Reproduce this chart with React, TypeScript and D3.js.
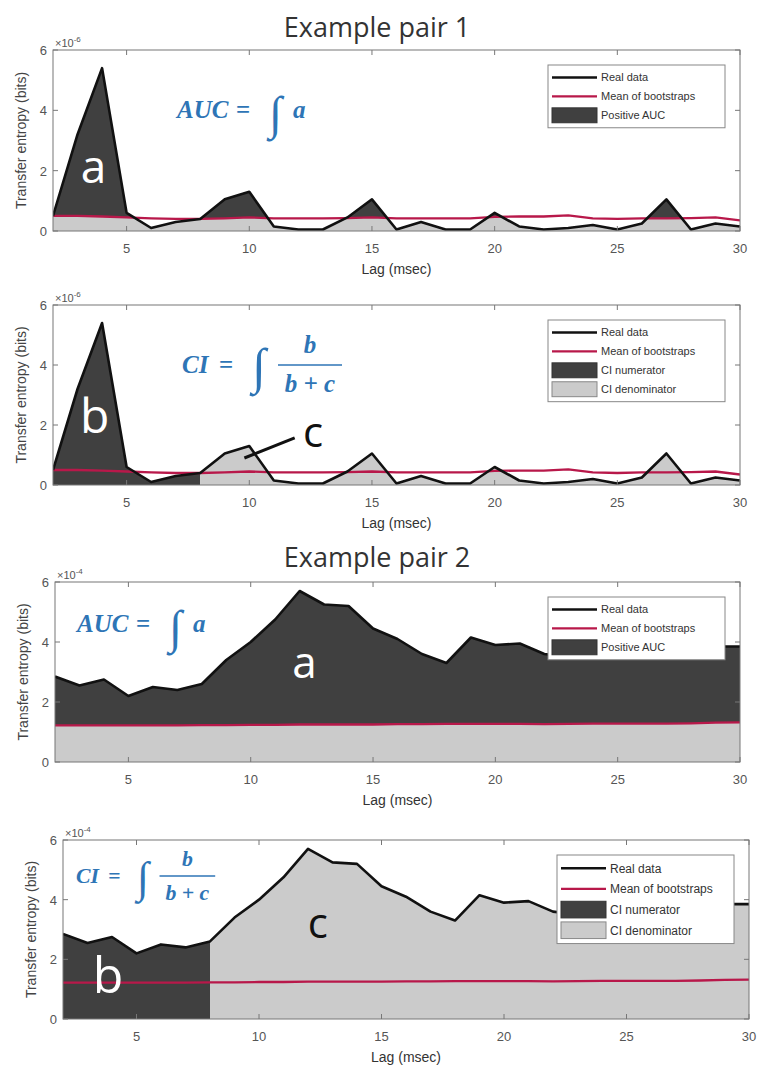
import React from 'react';
import * as d3 from 'd3';

// lag axis (msec) shared by all four panels
const lags = [2, 3, 4, 5, 6, 7, 8, 9, 10, 11, 12, 13, 14, 15, 16, 17, 18, 19, 20, 21, 22, 23, 24, 25, 26, 27, 28, 29, 30];

// Example pair 1, values in units of 1e-6 bits
const pair1Real = [0.5, 3.2, 5.4, 0.6, 0.1, 0.3, 0.4, 1.05, 1.3, 0.15, 0.05, 0.05, 0.45, 1.05, 0.05, 0.3, 0.05, 0.05, 0.6, 0.15, 0.05, 0.1, 0.2, 0.05, 0.25, 1.05, 0.05, 0.25, 0.15];
const pair1Boot = [0.5, 0.5, 0.48, 0.45, 0.42, 0.4, 0.4, 0.42, 0.45, 0.42, 0.42, 0.42, 0.43, 0.45, 0.42, 0.42, 0.42, 0.42, 0.47, 0.48, 0.48, 0.52, 0.42, 0.4, 0.42, 0.42, 0.43, 0.45, 0.35];

// Example pair 2, values in units of 1e-4 bits
const pair2Real = [2.85, 2.55, 2.75, 2.2, 2.5, 2.4, 2.6, 3.4, 4.0, 4.75, 5.7, 5.25, 5.2, 4.45, 4.1, 3.6, 3.3, 4.15, 3.9, 3.95, 3.6, 3.5, 3.55, 3.6, 3.5, 3.6, 3.75, 3.85, 3.85];
const pair2Boot = [1.22, 1.22, 1.22, 1.22, 1.22, 1.22, 1.23, 1.23, 1.24, 1.24, 1.25, 1.25, 1.25, 1.25, 1.26, 1.26, 1.27, 1.27, 1.27, 1.27, 1.26, 1.27, 1.28, 1.28, 1.28, 1.28, 1.29, 1.31, 1.32];

const xTicks = [5, 10, 15, 20, 25, 30];
const yTicks = [0, 2, 4, 6];
const ciSplitLag = 8;

const legendAuc = ['Real data', 'Mean of bootstraps', 'Positive AUC'];
const legendCi = ['Real data', 'Mean of bootstraps', 'CI numerator', 'CI denominator'];

const DARK = '#404040';
const LIGHT = '#cbcbcb';
const RED = '#b8184a';
const BLUE = '#2e75b6';
const AXIS = '#777';
const TICKTXT = '#555';

type Pt = { x: number; r: number; b: number };

// add the points where real data crosses the bootstrap mean
function withCrossings(real: number[], boot: number[]): Pt[] {
  const pts: Pt[] = [];
  for (let i = 0; i < lags.length; i++) {
    pts.push({ x: lags[i], r: real[i], b: boot[i] });
    if (i < lags.length - 1) {
      const d0 = real[i] - boot[i];
      const d1 = real[i + 1] - boot[i + 1];
      if (d0 * d1 < 0) {
        const t = d0 / (d0 - d1);
        pts.push({
          x: lags[i] + t * (lags[i + 1] - lags[i]),
          r: real[i] + t * (real[i + 1] - real[i]),
          b: boot[i] + t * (boot[i + 1] - boot[i]),
        });
      }
    }
  }
  return pts;
}

interface Letter { text: string; lag: number; val: number; size: number; color: string }

interface PanelProps {
  id: string;
  left: number;
  top: number;
  width: number;
  height: number;
  real: number[];
  boot: number[];
  exponent: string;
  mode: 'auc' | 'ci';
  legendFont: number;
  formula: { dx: number; dy: number; scale: number };
  letters: Letter[];
  pointer?: { x1: number; y1: number; x2: number; y2: number };
}

const AucFormula: React.FC<{ x: number; y: number; s: number }> = ({ x, y, s }) => (
  <g transform={`translate(${x},${y}) scale(${s})`} fill={BLUE} fontFamily="'Liberation Serif', serif">
    <text x={0} y={0} fontSize={25} fontWeight="bold" fontStyle="italic">AUC</text>
    <text x={59} y={0} fontSize={25} fontWeight="bold">=</text>
    <text x={92} y={11} fontSize={47}>∫</text>
    <text x={116} y={0} fontSize={25} fontWeight="bold" fontStyle="italic">a</text>
  </g>
);

const CiFormula: React.FC<{ x: number; y: number; s: number }> = ({ x, y, s }) => (
  <g transform={`translate(${x},${y}) scale(${s})`} fill={BLUE} fontFamily="'Liberation Serif', serif">
    <text x={0} y={0} fontSize={25} fontWeight="bold" fontStyle="italic">CI</text>
    <text x={37} y={0} fontSize={25} fontWeight="bold">=</text>
    <text x={70} y={10} fontSize={50}>∫</text>
    <text x={128} y={-20} fontSize={25} fontWeight="bold" fontStyle="italic" textAnchor="middle">b</text>
    <line x1={96} x2={160} y1={-8} y2={-8} stroke={BLUE} strokeWidth={1.6} />
    <text x={128} y={19} fontSize={25} fontWeight="bold" fontStyle="italic" textAnchor="middle">b + c</text>
  </g>
);

const Panel: React.FC<PanelProps> = (p) => {
  const x = d3.scaleLinear().domain([2, 30]).range([p.left, p.left + p.width]);
  const y = d3.scaleLinear().domain([0, 6]).range([p.top + p.height, p.top]);
  const bottom = p.top + p.height;
  const right = p.left + p.width;

  const realLine = d3.line<number>().x((_, i) => x(lags[i])).y((d) => y(d))(p.real) || '';
  const bootLine = d3.line<number>().x((_, i) => x(lags[i])).y((d) => y(d))(p.boot) || '';

  const pts = withCrossings(p.real, p.boot);
  const under = d3.area<Pt>().x((d) => x(d.x)).y0(y(0)).y1((d) => y(d.r));
  const above = d3.area<Pt>().x((d) => x(d.x)).y0((d) => y(d.b)).y1((d) => y(Math.max(d.r, d.b)));

  let fills: React.ReactNode;
  if (p.mode === 'auc') {
    fills = (
      <>
        <path d={under(pts) || ''} fill={LIGHT} />
        <path d={above(pts) || ''} fill={DARK} />
      </>
    );
  } else {
    const left = pts.filter((d) => d.x <= ciSplitLag);
    const rightPts = pts.filter((d) => d.x >= ciSplitLag);
    fills = (
      <>
        <path d={under(left) || ''} fill={DARK} />
        <path d={under(rightPts) || ''} fill={LIGHT} />
      </>
    );
  }

  const items = p.mode === 'auc' ? legendAuc : legendCi;
  const rowH = p.legendFont * 1.72;
  const legW = 177;
  const legH = items.length * rowH + 6;
  const legX = right - 15 - legW;
  const legY = p.top + 15;
  const tick = 5;

  return (
    <g>
      <defs>
        <clipPath id={`clip-${p.id}`}>
          <rect x={p.left} y={p.top} width={p.width} height={p.height} />
        </clipPath>
      </defs>
      <g clipPath={`url(#clip-${p.id})`}>
        {fills}
        <path d={bootLine} fill="none" stroke={RED} strokeWidth={2.3} strokeLinejoin="round" />
        <path d={realLine} fill="none" stroke="#111" strokeWidth={2.6} strokeLinejoin="round" />
      </g>

      {/* box and ticks */}
      <rect x={p.left} y={p.top} width={p.width} height={p.height} fill="none" stroke={AXIS} strokeWidth={1} />
      {xTicks.map((t) => (
        <g key={`xt${t}`}>
          <line x1={x(t)} x2={x(t)} y1={bottom} y2={bottom - tick} stroke={AXIS} />
          <line x1={x(t)} x2={x(t)} y1={p.top} y2={p.top + tick} stroke={AXIS} />
          <text x={x(t)} y={bottom + 22} textAnchor="middle" fontSize={13} fill={TICKTXT} fontFamily="'Liberation Sans', Arial, sans-serif">{t}</text>
        </g>
      ))}
      {yTicks.map((t) => (
        <g key={`yt${t}`}>
          <line x1={p.left} x2={p.left + tick} y1={y(t)} y2={y(t)} stroke={AXIS} />
          <line x1={right} x2={right - tick} y1={y(t)} y2={y(t)} stroke={AXIS} />
          <text x={p.left - 6} y={y(t) + 5} textAnchor="end" fontSize={13} fill={TICKTXT} fontFamily="'Liberation Sans', Arial, sans-serif">{t}</text>
        </g>
      ))}
      <text x={p.left + 2} y={p.top - 3} fontSize={11} fill={TICKTXT} fontFamily="'Liberation Sans', Arial, sans-serif">
        ×10<tspan dy={-5} fontSize={8}>{p.exponent}</tspan>
      </text>
      <text x={p.left + p.width / 2} y={bottom + 43} textAnchor="middle" fontSize={14} fill="#333" fontFamily="'Liberation Sans', Arial, sans-serif">Lag (msec)</text>
      <text transform={`translate(${p.left - 27},${p.top + p.height / 2}) rotate(-90)`} textAnchor="middle" fontSize={14} fill="#444" fontFamily="'Liberation Sans', Arial, sans-serif">Transfer entropy (bits)</text>

      {/* big letters */}
      {p.letters.map((l, i) => (
        <text key={i} x={x(l.lag)} y={y(l.val)} textAnchor="middle" fontSize={l.size} fill={l.color} fontFamily="'Open Sans', sans-serif">{l.text}</text>
      ))}
      {p.pointer && (
        <line x1={x(p.pointer.x1)} y1={y(p.pointer.y1)} x2={x(p.pointer.x2)} y2={y(p.pointer.y2)} stroke="#111" strokeWidth={3} />
      )}

      {p.mode === 'auc'
        ? <AucFormula x={p.left + p.formula.dx} y={p.top + p.formula.dy} s={p.formula.scale} />
        : <CiFormula x={p.left + p.formula.dx} y={p.top + p.formula.dy} s={p.formula.scale} />}

      {/* legend */}
      <g fontFamily="'Liberation Sans', Arial, sans-serif" fontSize={p.legendFont} fill="#333">
        <rect x={legX} y={legY} width={legW} height={legH} fill="#fff" stroke="#888" strokeWidth={1} />
        {items.map((name, i) => {
          const cy = legY + 3 + rowH * (i + 0.5);
          const sx = legX + 4;
          const sw = 45;
          let sym: React.ReactNode;
          if (i === 0) sym = <line x1={sx} x2={sx + sw} y1={cy} y2={cy} stroke="#111" strokeWidth={2.6} />;
          else if (i === 1) sym = <line x1={sx} x2={sx + sw} y1={cy} y2={cy} stroke={RED} strokeWidth={2.3} />;
          else if (name === 'CI denominator') sym = <rect x={sx} y={cy - rowH / 2 + 2} width={sw} height={rowH - 4} fill={LIGHT} stroke="#888" />;
          else sym = <rect x={sx} y={cy - rowH / 2 + 2} width={sw} height={rowH - 4} fill={DARK} stroke="#333" />;
          return (
            <g key={name}>
              {sym}
              <text x={sx + sw + 4} y={cy + p.legendFont * 0.36}>{name}</text>
            </g>
          );
        })}
      </g>
    </g>
  );
};

const App: React.FC = () => {
  return (
    <div style={{ position: 'absolute', left: 0, top: 0 }}>
      <svg width={758} height={1067} style={{ display: 'block', background: '#fff' }}>
        <text x={377} y={37} textAnchor="middle" fontSize={27} fill="#333" fontFamily="'Open Sans', sans-serif">Example pair 1</text>
        <text x={377} y={567} textAnchor="middle" fontSize={27} fill="#333" fontFamily="'Open Sans', sans-serif">Example pair 2</text>

        <Panel id="p1" left={53} top={50} width={687} height={181} real={pair1Real} boot={pair1Boot} exponent="-6" mode="auc"
          legendFont={11} formula={{ dx: 124, dy: 68, scale: 1 }}
          letters={[{ text: 'a', lag: 3.65, val: 1.6, size: 46, color: '#fff' }]} />

        <Panel id="p2" left={53} top={305} width={687} height={180} real={pair1Real} boot={pair1Boot} exponent="-6" mode="ci"
          legendFont={11} formula={{ dx: 129, dy: 68, scale: 1 }}
          letters={[
            { text: 'b', lag: 3.7, val: 1.73, size: 48, color: '#fff' },
            { text: 'c', lag: 12.6, val: 1.27, size: 42, color: '#111' },
          ]}
          pointer={{ x1: 11.85, y1: 1.57, x2: 9.8, y2: 0.9 }} />

        <Panel id="p3" left={55} top={582} width={685} height={180} real={pair2Real} boot={pair2Boot} exponent="-4" mode="auc"
          legendFont={11} formula={{ dx: 22, dy: 50, scale: 1 }}
          letters={[{ text: 'a', lag: 12.2, val: 2.8, size: 44, color: '#fff' }]} />

        <Panel id="p4" left={63} top={840} width={686} height={179} real={pair2Real} boot={pair2Boot} exponent="-4" mode="ci"
          legendFont={12} formula={{ dx: 13, dy: 43, scale: 0.87 }}
          letters={[
            { text: 'b', lag: 3.84, val: 0.87, size: 50, color: '#fff' },
            { text: 'c', lag: 12.4, val: 2.72, size: 42, color: '#111' },
          ]} />
      </svg>
    </div>
  );
};

export default App;
